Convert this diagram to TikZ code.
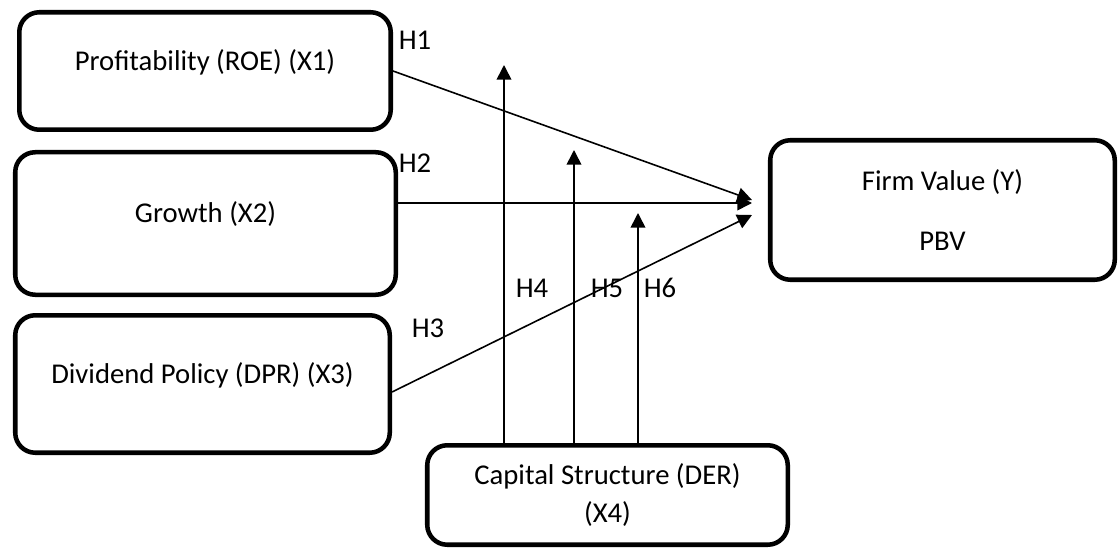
\documentclass[tikz,border=0pt]{standalone}
\usepackage{fontspec}
\setmainfont{Carlito}
\usetikzlibrary{arrows.meta}

\begin{document}
\begin{tikzpicture}[x=0.75pt,y=-0.75pt,
  box/.style={draw,line width=3.4pt,rounded corners=15pt,align=center,
    font=\fontsize{21.5}{26}\selectfont},
  leftbox/.style={box,text depth=17pt},
  hyp/.style={line width=1.2pt,-{Triangle[length=11pt,width=11pt]}},
  hlab/.style={font=\fontsize{21.5}{26}\selectfont}]
\useasboundingbox (0,0) rectangle (1118,549);
% variables
\node[leftbox,minimum width=278.6pt,minimum height=88.1pt] (roe) at (205,71) {Profitability (ROE) (X1)};
\node[leftbox,minimum width=285.4pt,minimum height=106.9pt] (growth) at (205.5,223.5) {Growth (X2)};
\node[leftbox,minimum width=280.9pt,minimum height=103.1pt] (dpr) at (202.5,384) {Dividend Policy (DPR) (X3)};
\node[box,minimum width=258.4pt,minimum height=104.6pt] (firm) at (942.5,210) {Firm Value (Y)\\[19pt]PBV};
\node[box,minimum width=270.4pt,minimum height=74.6pt] (der) at (607.5,495) {Capital Structure (DER)\\[3pt](X4)};
% arrow ends
\coordinate (t1) at (752,200);
\coordinate (t2) at (752,203);
\coordinate (t3) at (752,215);
\coordinate (m4) at (504,65);
\coordinate (m5) at (574,150);
\coordinate (m6) at (638,213);
% direct effects
\draw[hyp] (roe.east) -- (t1);
\draw[hyp] (growth.east |- t2) -- (t2);
\draw[hyp] ([yshift=-6pt]dpr.east) -- (t3);
% moderation
\draw[hyp] (der.north -| m4) -- (m4);
\draw[hyp] (der.north -| m5) -- (m5);
\draw[hyp] (der.north -| m6) -- (m6);
% labels
\node[hlab] (h1) at (415,40) {H1};
\node[hlab] (h2) at (415,163) {H2};
\node[hlab] (h3) at (428,328) {H3};
\node[hlab] (h4) at (532,288) {H4};
\node[hlab] (h5) at (607,288) {H5};
\node[hlab] (h6) at (660,288) {H6};
\end{tikzpicture}
\end{document}
